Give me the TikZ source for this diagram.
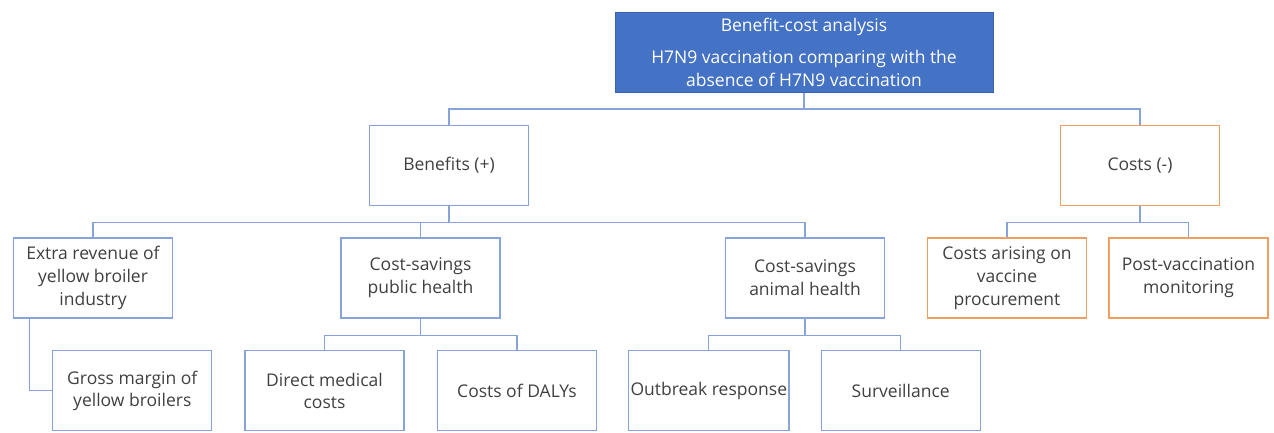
\documentclass[tikz,border=0pt]{standalone}
\usepackage{fontspec}
\setmainfont{Open Sans}
\definecolor{linkblue}{HTML}{86A4DA}
\definecolor{costorange}{HTML}{F19E62}
\definecolor{headfill}{HTML}{4472C4}
\definecolor{headedge}{HTML}{3A62AC}
\definecolor{txt}{HTML}{404040}
\begin{document}
\begin{tikzpicture}[x=1pt,y=-1pt,
  font=\fontsize{17.5}{22.7}\selectfont,
  box/.style={draw=linkblue,line width=1.3pt,fill=white,text=txt,
    minimum width=159pt,minimum height=80pt,inner sep=2pt,align=center},
  costbox/.style={box,draw=costorange},
  headbox/.style={draw=headedge,line width=1pt,fill=headfill,text=white,
    minimum width=378pt,minimum height=80pt,inner sep=2pt,align=center},
  link/.style={draw=linkblue,line width=1.3pt}]
\useasboundingbox (0,0) rectangle (1274,433);

% top level
\node[headbox] (top) at (804,52.5)
  {Benefit-cost analysis\\[9pt]H7N9 vaccination comparing with the\\absence of H7N9 vaccination};

% second level
\node[box] (benefits) at (449,165.5) {Benefits (+)};
\node[costbox] (costs) at (1140,165.5) {Costs (-)};

% third level
\node[box] (extra) at (93,278) {Extra revenue of\\yellow broiler\\industry};
\node[box] (public) at (420.5,278) {Cost-savings\\public health};
\node[box] (animal) at (805,278) {Cost-savings\\animal health};
\node[costbox] (arising) at (1007,278) {Costs arising on\\vaccine\\procurement};
\node[costbox] (post) at (1188.5,278) {Post-vaccination\\monitoring};

% fourth level
\node[box] (gross) at (132.3,390.8) {Gross margin of\\yellow broilers};
\node[box] (direct) at (324.5,390.8) {Direct medical\\costs};
\node[box] (dalys) at (517,390.8) {Costs of DALYs};
\node[box] (outbreak) at (708.8,390.8) {Outbreak response};
\node[box] (surv) at (900.7,390.8) {Surveillance};

% connectors
\draw[link] (top.south) -- ++(0,16) -| (benefits.north);
\draw[link] (top.south) -- ++(0,16) -| (costs.north);

\draw[link] (benefits.south) -- ++(0,16.5) -| (extra.north);
\draw[link] (benefits.south) -- ++(0,16.5) -| (public.north);
\draw[link] (benefits.south) -- ++(0,16.5) -| (animal.north);

\draw[link] (costs.south) -- ++(0,16) -| (arising.north);
\draw[link] (costs.south) -- ++(0,16) -| (post.north);

\draw[link] ([xshift=-63.7pt]extra.south) |- (gross.west);

\draw[link] (public.south) -- ++(0,16.5) -| (direct.north);
\draw[link] (public.south) -- ++(0,16.5) -| (dalys.north);

\draw[link] (animal.south) -- ++(0,16.5) -| (outbreak.north);
\draw[link] (animal.south) -- ++(0,16.5) -| (surv.north);
\end{tikzpicture}
\end{document}
